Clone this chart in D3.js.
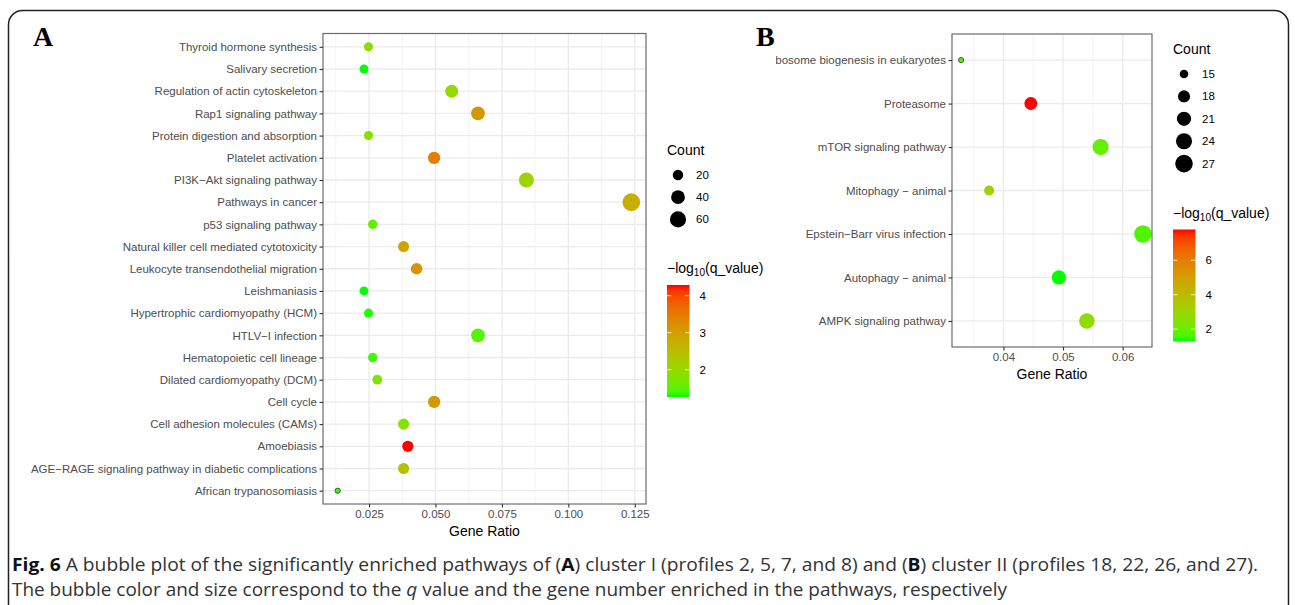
<!DOCTYPE html>
<html>
<head>
<meta charset="utf-8">
<script src="https://cdn.jsdelivr.net/npm/d3@7"></script>
<style>
  body { margin: 0; background: #fff; }
  text { font-family: "Liberation Sans", Arial, sans-serif; }
</style>
</head>
<body>
<svg id="fig" width="1295" height="605"></svg>
<script>
// Panel A: cluster I (top to bottom as drawn)
const pathwaysA = [
  "Thyroid hormone synthesis", "Salivary secretion", "Regulation of actin cytoskeleton",
  "Rap1 signaling pathway", "Protein digestion and absorption", "Platelet activation",
  "PI3K\u2212Akt signaling pathway", "Pathways in cancer", "p53 signaling pathway",
  "Natural killer cell mediated cytotoxicity", "Leukocyte transendothelial migration",
  "Leishmaniasis", "Hypertrophic cardiomyopathy (HCM)", "HTLV\u2212I infection",
  "Hematopoietic cell lineage", "Dilated cardiomyopathy (DCM)", "Cell cycle",
  "Cell adhesion molecules (CAMs)", "Amoebiasis",
  "AGE\u2212RAGE signaling pathway in diabetic complications", "African trypanosomiasis"
];
const ratioA = [0.0248, 0.0231, 0.0561, 0.0660, 0.0248, 0.0495, 0.0842, 0.1237, 0.0264, 0.0380,
                0.0429, 0.0231, 0.0248, 0.0660, 0.0264, 0.0281, 0.0495, 0.0380, 0.0396, 0.0380, 0.0132];
const countA = [15, 14, 34, 40, 15, 30, 51, 75, 16, 23, 26, 14, 15, 40, 16, 17, 30, 23, 24, 23, 8];
const logqA  = [1.92, 1.26, 1.98, 3.10, 1.83, 3.44, 2.10, 2.74, 1.56, 2.92, 3.17,
                1.26, 1.30, 1.47, 1.38, 1.77, 3.10, 1.77, 4.29, 2.44, 1.35];
const xTicksA = [0.025, 0.050, 0.075, 0.100, 0.125];
const sizeBreaksA = [20, 40, 60];
const colorBreaksA = [2, 3, 4];

// Panel B: cluster II
const pathwaysB = [
  "Ribosome biogenesis in eukaryotes", "Proteasome", "mTOR signaling pathway",
  "Mitophagy \u2212 animal", "Epstein\u2212Barr virus infection", "Autophagy \u2212 animal",
  "AMPK signaling pathway"
];
const ratioB = [0.0329, 0.0446, 0.0563, 0.0376, 0.0634, 0.0493, 0.0540];
const countB = [14, 19, 24, 16, 27, 21, 23];
const logqB  = [1.60, 7.79, 1.95, 3.10, 1.65, 1.28, 2.70];
const xTicksB = [0.04, 0.05, 0.06];
const sizeBreaksB = [15, 18, 21, 24, 27];
const colorBreaksB = [2, 4, 6];

const svg = d3.select('#fig');
svg.append('rect').attr('width', 1295).attr('height', 605).attr('fill', '#fff');

// outer frame of the figure
svg.append('rect')
  .attr('x', 8.5).attr('y', 10.5).attr('width', 1280).attr('height', 620)
  .attr('rx', 14).attr('fill', 'none').attr('stroke', '#222').attr('stroke-width', 1.5);

const defs = svg.append('defs');

function drawPanel(p) {
  const data = p.pathways.map((name, i) => ({name, ratio: p.ratio[i], count: p.count[i], logq: p.logq[i]}));

  // ggplot style 5% expansion
  const [xmin, xmax] = d3.extent(p.ratio);
  const pad = (xmax - xmin) * 0.05;
  const x = d3.scaleLinear().domain([xmin - pad, xmax + pad]).range([p.box.left, p.box.right]);
  const y = d3.scalePoint().domain(p.pathways).range([p.box.top, p.box.bottom]).padding(0.6);

  const cExtent = d3.extent(p.count);
  const sizeT = d3.scaleLinear().domain(cExtent).range([0, 1]);
  const radius = c => 2.6 + 6.2 * Math.sqrt(Math.max(0, sizeT(c)));

  const color = d3.scaleLinear().domain(d3.extent(p.logq))
    .range(['#00ff00', '#ff0000']).interpolate(d3.interpolateLab);

  const g = svg.append('g');

  // grid
  const step = p.xTicks[1] - p.xTicks[0];
  const minor = [];
  for (let v = p.xTicks[0] - step / 2; v <= x.domain()[1]; v += step) {
    if (v >= x.domain()[0]) minor.push(v);
  }
  g.selectAll('.minor').data(minor).enter().append('line')
    .attr('x1', d => x(d)).attr('x2', d => x(d))
    .attr('y1', p.box.top).attr('y2', p.box.bottom)
    .attr('stroke', '#f0f0f0').attr('stroke-width', 0.8);
  g.selectAll('.majorx').data(p.xTicks).enter().append('line')
    .attr('x1', d => x(d)).attr('x2', d => x(d))
    .attr('y1', p.box.top).attr('y2', p.box.bottom)
    .attr('stroke', '#ebebeb').attr('stroke-width', 1.3);
  g.selectAll('.majory').data(p.pathways).enter().append('line')
    .attr('x1', p.box.left).attr('x2', p.box.right)
    .attr('y1', d => y(d)).attr('y2', d => y(d))
    .attr('stroke', '#ebebeb').attr('stroke-width', 1.3);

  // bubbles
  g.selectAll('circle.bubble').data(data).enter().append('circle')
    .attr('class', 'bubble')
    .attr('cx', d => x(d.ratio)).attr('cy', d => y(d.name))
    .attr('r', d => radius(d.count))
    .attr('fill', d => color(d.logq))
    .attr('stroke', d => d.count === cExtent[0] ? '#333' : 'none')
    .attr('stroke-width', 0.8);

  // panel border
  g.append('rect')
    .attr('x', p.box.left).attr('y', p.box.top)
    .attr('width', p.box.right - p.box.left).attr('height', p.box.bottom - p.box.top)
    .attr('fill', 'none').attr('stroke', '#6b6b6b').attr('stroke-width', 1.2);

  // axes
  const xAxis = g.append('g')
    .attr('transform', `translate(0,${p.box.bottom})`)
    .call(d3.axisBottom(x).tickValues(p.xTicks).tickFormat(d3.format(p.fmt)).tickSize(3.5).tickPadding(2));
  const yAxis = g.append('g')
    .attr('transform', `translate(${p.box.left},0)`)
    .call(d3.axisLeft(y).tickSize(3.5).tickPadding(2.5));
  if (p.clipLeft) {
    // clip coordinates are in the axis group's own (translated) space
    defs.append('clipPath').attr('id', 'clip' + p.id)
      .append('rect').attr('x', p.clipLeft - p.box.left).attr('y', -50)
      .attr('width', 400).attr('height', 700);
    yAxis.attr('clip-path', `url(#clip${p.id})`);
  }
  [xAxis, yAxis].forEach(a => {
    a.select('.domain').remove();
    a.selectAll('line').attr('stroke', '#333').attr('stroke-width', 1.1);
    a.selectAll('text').attr('fill', '#4d4d4d').style('font-size', '11.5px').attr('font-family', null);
  });

  g.append('text')
    .attr('x', (p.box.left + p.box.right) / 2).attr('y', p.box.bottom + 32)
    .attr('text-anchor', 'middle').style('font-size', '14px').attr('fill', '#000')
    .text('Gene Ratio');

  // size legend
  const lg = svg.append('g');
  lg.append('text').attr('x', p.legend.x).attr('y', p.legend.countY)
    .style('font-size', '14px').text('Count');
  const keys = lg.selectAll('g.key').data(p.sizeBreaks).enter().append('g')
    .attr('transform', (d, i) => `translate(${p.legend.x + 11},${p.legend.countY + 20 + i * p.legend.keyStep})`);
  keys.append('circle').attr('r', d => radius(d)).attr('fill', '#000');
  keys.append('text').attr('x', 18).attr('dy', '0.35em')
    .style('font-size', '11.5px').text(d => d);

  // colour bar legend
  const ct = lg.append('text').attr('x', p.legend.x).attr('y', p.legend.barTop - 12)
    .style('font-size', '14px');
  ct.append('tspan').text('\u2212log');
  ct.append('tspan').attr('dy', 3).style('font-size', '10px').text('10');
  ct.append('tspan').attr('dy', -3).text('(q_value)');

  const gradId = 'grad' + p.id;
  const grad = defs.append('linearGradient').attr('id', gradId)
    .attr('x1', 0).attr('y1', 1).attr('x2', 0).attr('y2', 0);
  const cd = color.domain();
  d3.range(0, 1.0001, 0.05).forEach(t => {
    grad.append('stop').attr('offset', t).attr('stop-color', color(cd[0] + t * (cd[1] - cd[0])));
  });
  const barW = 22.5;
  const barY = d3.scaleLinear().domain(cd).range([p.legend.barTop + p.legend.barH, p.legend.barTop]);
  lg.append('rect').attr('x', p.legend.x).attr('y', p.legend.barTop)
    .attr('width', barW).attr('height', p.legend.barH).attr('fill', `url(#${gradId})`);
  p.colorBreaks.forEach(b => {
    const yy = barY(b);
    lg.append('line').attr('x1', p.legend.x).attr('x2', p.legend.x + 4.5)
      .attr('y1', yy).attr('y2', yy).attr('stroke', '#fff').attr('stroke-width', 0.8);
    lg.append('line').attr('x1', p.legend.x + barW - 4.5).attr('x2', p.legend.x + barW)
      .attr('y1', yy).attr('y2', yy).attr('stroke', '#fff').attr('stroke-width', 0.8);
    lg.append('text').attr('x', p.legend.x + barW + 10).attr('y', yy).attr('dy', '0.35em')
      .style('font-size', '11.5px').text(b);
  });

  // panel letter
  svg.append('text').attr('x', p.letter.x).attr('y', p.letter.y)
    .style('font-family', '"Liberation Serif", "Times New Roman", serif')
    .style('font-weight', 'bold').style('font-size', '28px').text(p.id);
}

drawPanel({
  id: 'A', pathways: pathwaysA, ratio: ratioA, count: countA, logq: logqA,
  xTicks: xTicksA, fmt: '.3f', sizeBreaks: sizeBreaksA, colorBreaks: colorBreaksA,
  box: {left: 323, right: 646, top: 33.5, bottom: 504},
  legend: {x: 667, countY: 155, keyStep: 22.2, barTop: 285, barH: 112},
  letter: {x: 33, y: 46}
});

drawPanel({
  id: 'B', pathways: pathwaysB, ratio: ratioB, count: countB, logq: logqB,
  xTicks: xTicksB, fmt: '.2f', sizeBreaks: sizeBreaksB, colorBreaks: colorBreaksB,
  box: {left: 952, right: 1152, top: 34, bottom: 347},
  legend: {x: 1173, countY: 54, keyStep: 22.4, barTop: 229.5, barH: 112},
  letter: {x: 756, y: 46}, clipLeft: 776
});

// caption
const cap1 = svg.append('text').attr('x', 12).attr('y', 571)
  .attr('textLength', 1246).attr('lengthAdjust', 'spacingAndGlyphs')
  .style('font-family', '"Open Sans", sans-serif').style('font-size', '18px').attr('fill', '#333');
cap1.append('tspan').style('font-weight', 'bold').attr('fill', '#111').text('Fig. 6');
cap1.append('tspan').text(' A bubble plot of the significantly enriched pathways of (');
cap1.append('tspan').style('font-weight', 'bold').attr('fill', '#111').text('A');
cap1.append('tspan').text(') cluster I (profiles 2, 5, 7, and 8) and (');
cap1.append('tspan').style('font-weight', 'bold').attr('fill', '#111').text('B');
cap1.append('tspan').text(') cluster II (profiles 18, 22, 26, and 27).');

const cap2 = svg.append('text').attr('x', 12).attr('y', 596)
  .attr('textLength', 995).attr('lengthAdjust', 'spacingAndGlyphs')
  .style('font-family', '"Open Sans", sans-serif').style('font-size', '18px').attr('fill', '#333');
cap2.append('tspan').text('The bubble color and size correspond to the ');
cap2.append('tspan').style('font-style', 'italic').text('q');
cap2.append('tspan').text(' value and the gene number enriched in the pathways, respectively');
</script>
</body>
</html>
